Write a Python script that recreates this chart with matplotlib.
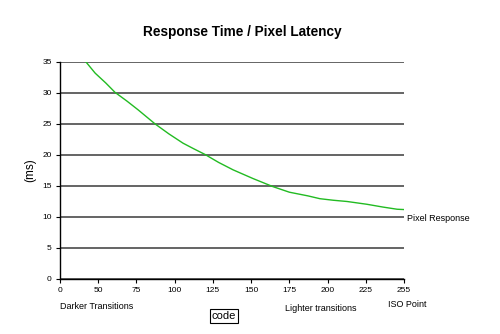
import matplotlib
matplotlib.use("Agg")
import matplotlib.pyplot as plt

plt.rcParams['font.family'] = ['Liberation Sans', 'DejaVu Sans']

tick_labels = ["0", "50", "75", "100", "125", "150", "175", "200", "225", "255"]
# curve positions in category-index units and response values (ms)
pos = [0.68, 0.92, 1.20, 1.44, 1.75, 2.04, 2.49, 2.85, 3.22, 3.50, 3.79, 4.15, 4.53,
       5.05, 5.57, 6.00, 6.49, 6.80, 7.15, 7.51, 8.03, 8.45, 8.82, 9.0]
ms = [35.0, 33.2, 31.6, 30.1, 28.7, 27.3, 25.0, 23.4, 21.9, 21.0, 20.1, 18.8, 17.6,
      16.2, 14.9, 14.0, 13.4, 12.95, 12.7, 12.5, 12.05, 11.6, 11.25, 11.2]
yticks = [0, 5, 10, 15, 20, 25, 30, 35]

fig = plt.figure(figsize=(5.0, 3.34), dpi=100)
ax = fig.add_axes([0.12, 0.1647, 0.688, 0.6497])

for y in yticks:
    ax.axhline(y, color='#4a4a4a', lw=1.2, zorder=1)

ax.plot(pos, ms, color='#22bb22', lw=1.0, zorder=3)

ax.set_xlim(0, len(tick_labels) - 1)
ax.set_ylim(0, 35)
ax.set_xticks(range(len(tick_labels)))
ax.set_xticklabels(tick_labels)
ax.set_yticks(yticks)
ax.tick_params(axis='both', labelsize=6, length=3, width=0.8, color='black', pad=3)

for s in ['top', 'right']:
    ax.spines[s].set_visible(False)
for s in ['left', 'bottom']:
    ax.spines[s].set_color('black')
    ax.spines[s].set_linewidth(1.0)
    ax.spines[s].set_zorder(4)

fig.text(0.06, 0.49, "(ms)", rotation=90, ha='center', va='center', fontsize=8.5)

fig.text(0.484, 0.905, "Response Time / Pixel Latency", ha='center', va='center',
         fontsize=9.8, fontweight='bold')
fig.text(0.814, 0.347, "Pixel Response", ha='left', va='center', fontsize=6.5)
fig.text(0.12, 0.083, "Darker Transitions", ha='left', va='center', fontsize=6.5)
fig.text(0.57, 0.075, "Lighter transitions", ha='left', va='center', fontsize=6.5)
fig.text(0.776, 0.089, "ISO Point", ha='left', va='center', fontsize=6.5)
fig.text(0.448, 0.054, "code", ha='center', va='center', fontsize=8,
         bbox=dict(boxstyle='square,pad=0.2', fc='white', ec='black', lw=0.8))

fig.savefig("out.png", dpi=100, facecolor='white')
